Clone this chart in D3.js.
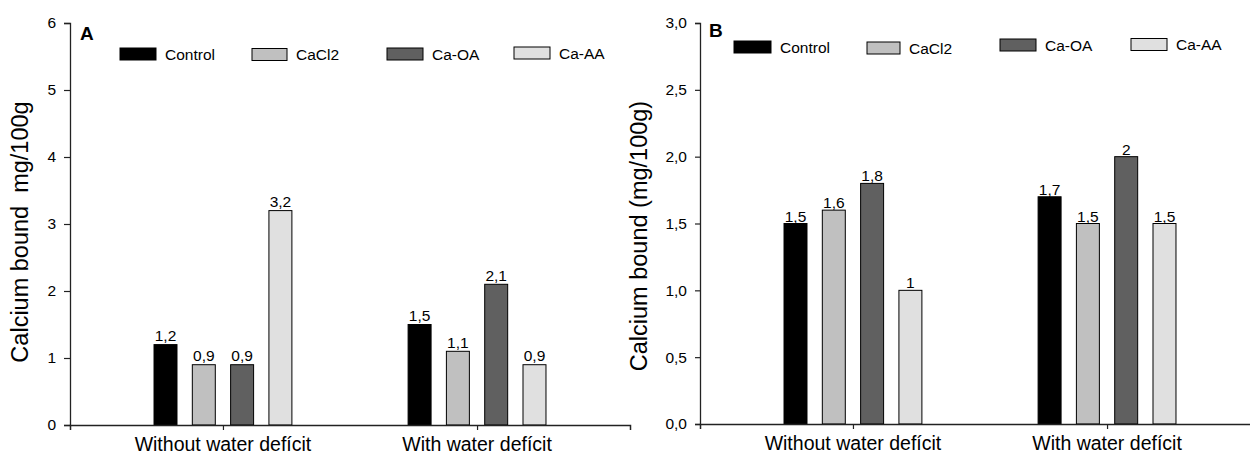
<!DOCTYPE html>
<html>
<head>
<meta charset="utf-8">
<script src="https://cdn.jsdelivr.net/npm/d3@7"></script>
<style>
  html, body { margin: 0; padding: 0; background: #fff; }
  svg { display: block; font-family: "Liberation Sans", Arial, sans-serif; }
</style>
</head>
<body>
<svg id="chart" width="1250" height="455"></svg>
<script>
// Calcium bound to the tissue, by treatment and irrigation regime
const groups = ["Without water defícit", "With water defícit"];
const treatments = ["Control", "CaCl2", "Ca-OA", "Ca-AA"];
const colors = ["#000000", "#c0c0c0", "#606060", "#e0e0e0"];

// Panel A (mg/100g)
const panelAWithout = [1.2, 0.9, 0.9, 3.2];
const panelAWith = [1.5, 1.1, 2.1, 0.9];
const panelATicks = [0, 1, 2, 3, 4, 5, 6];

// Panel B (mg/100g)
const panelBWithout = [1.5, 1.6, 1.8, 1.0];
const panelBWith = [1.7, 1.5, 2.0, 1.5];
const panelBTicks = [0, 0.5, 1.0, 1.5, 2.0, 2.5, 3.0];

const svg = d3.select("#chart");
const comma = s => s.replace(".", ",");

function drawPanel(opt) {
  const g = svg.append("g");
  const y = d3.scaleLinear().domain(opt.yDomain).range([opt.bottom, opt.top]);
  const x = d3.scalePoint().domain(groups).range([opt.left, opt.right]).padding(0.602);
  const inner = d3.scaleBand().domain(treatments).range([-76.6, 76.6])
    .paddingInner(0.4).paddingOuter(0.2);

  // bars
  const rows = [];
  opt.series.forEach((vals, gi) => {
    vals.forEach((v, ti) => rows.push({ group: groups[gi], t: treatments[ti], ti, v }));
  });

  g.selectAll("rect.bar").data(rows).join("rect")
    .attr("class", "bar")
    .attr("x", d => x(d.group) + inner(d.t))
    .attr("y", d => y(d.v))
    .attr("width", inner.bandwidth())
    .attr("height", d => y(0) - y(d.v))
    .attr("fill", d => colors[d.ti])
    .attr("stroke", "#000")
    .attr("stroke-width", 1);

  g.selectAll("text.val").data(rows).join("text")
    .attr("class", "val")
    .attr("x", d => x(d.group) + inner(d.t) + inner.bandwidth() / 2)
    .attr("y", d => y(d.v) - opt.labelGap)
    .attr("text-anchor", "middle")
    .attr("font-size", 15.5)
    .attr("fill", "#000")
    .text(d => comma(String(d.v)));

  // y axis
  const yAxis = d3.axisLeft(y).tickValues(opt.ticks).tickFormat(opt.tickFormat)
    .tickSizeOuter(0).tickSize(opt.tickSize).tickPadding(8);
  const ya = g.append("g").attr("transform", `translate(${opt.left},0)`).call(yAxis);
  ya.select(".domain").attr("stroke", "#222").attr("stroke-width", 1.3);
  ya.selectAll(".tick line").attr("stroke", "#222").attr("stroke-width", 1.2);
  ya.selectAll(".tick text").attr("font-size", 15.5).attr("fill", "#000")
    .attr("font-family", "Liberation Sans, Arial, sans-serif");

  // x axis
  const xAxis = d3.axisBottom(x).tickSizeOuter(0).tickSize(5).tickFormat("");
  const xa = g.append("g").attr("transform", `translate(0,${opt.bottom})`).call(xAxis);
  xa.select(".domain").attr("stroke", "#222").attr("stroke-width", 1.5);
  xa.selectAll(".tick line").attr("stroke", "#222").attr("stroke-width", 1.2);

  g.selectAll("text.cat").data(groups).join("text")
    .attr("class", "cat")
    .attr("x", d => x(d))
    .attr("y", opt.bottom + 26)
    .attr("text-anchor", "middle")
    .attr("font-size", 19.5)
    .attr("fill", "#000")
    .text(d => d);

  // axis title
  g.append("text")
    .attr("transform", `translate(${opt.titleX},${opt.titleY}) rotate(-90)`)
    .attr("text-anchor", "middle")
    .attr("dominant-baseline", "middle")
    .attr("font-size", 23.5)
    .attr("fill", "#000")
    .style("white-space", "pre")
    .text(opt.title);

  // panel letter
  g.append("text")
    .attr("x", opt.letterX).attr("y", opt.letterY)
    .attr("font-size", 19).attr("font-weight", "bold").attr("fill", "#000")
    .text(opt.letter);

  // legend
  treatments.forEach((t, i) => {
    const lx = opt.legendX[i], ly = opt.legendY[i], w = opt.legendW[i];
    g.append("rect")
      .attr("x", lx).attr("y", ly).attr("width", w).attr("height", 12)
      .attr("fill", colors[i]).attr("stroke", "#000").attr("stroke-width", 1);
    g.append("text")
      .attr("x", lx + w + 9).attr("y", ly + 6)
      .attr("dominant-baseline", "central")
      .attr("font-size", 15.5).attr("fill", "#000")
      .text(t);
  });
}

drawPanel({
  series: [panelAWithout, panelAWith],
  yDomain: [0, 6], ticks: panelATicks, tickFormat: d => String(d),
  left: 70, right: 630, top: 23, bottom: 425, tickSize: 6,
  labelGap: 3.5,
  title: "Calcium bound  mg/100g", titleX: 22, titleY: 232,
  letter: "A", letterX: 80, letterY: 40,
  legendX: [120, 252, 387, 514], legendY: [48, 48.5, 48, 47], legendW: [36, 35, 36, 36]
});

drawPanel({
  series: [panelBWithout, panelBWith],
  yDomain: [0, 3], ticks: panelBTicks, tickFormat: d => comma(d3.format(".1f")(d)),
  left: 700, right: 1260, top: 23, bottom: 424, tickSize: 5,
  labelGap: 2,
  title: "Calcium bound (mg/100g)", titleX: 641, titleY: 236,
  letter: "B", letterX: 709, letterY: 37,
  legendX: [734, 867, 1000, 1131], legendY: [41, 42, 39, 38.5], legendW: [37, 33, 36, 36]
});
</script>
</body>
</html>
